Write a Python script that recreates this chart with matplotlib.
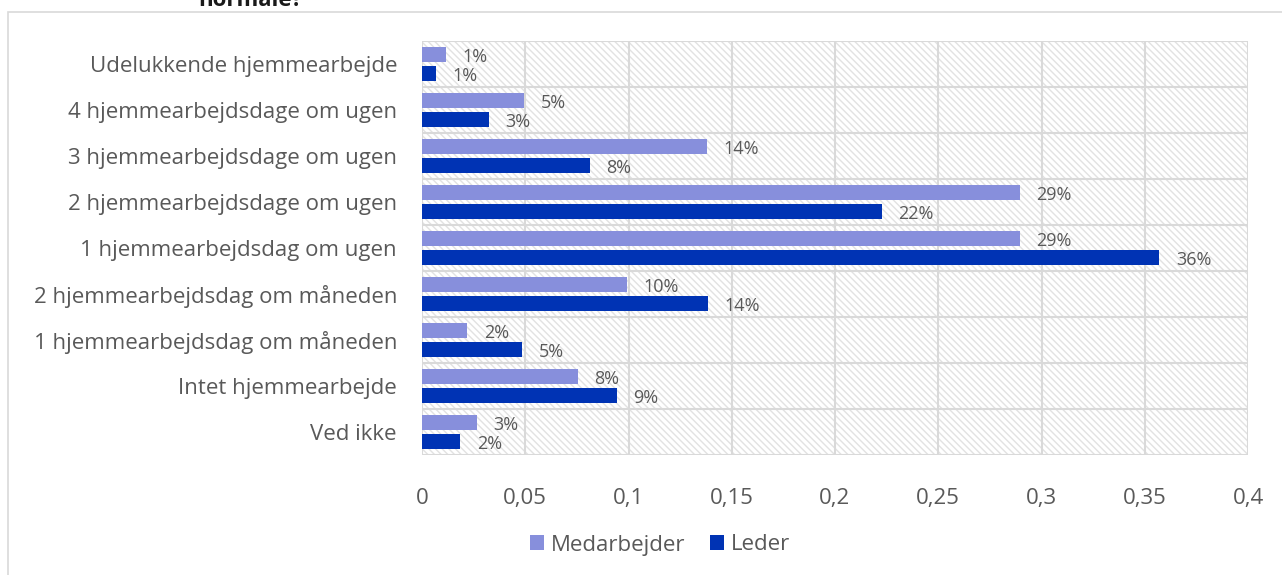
import matplotlib
matplotlib.use("Agg")
import matplotlib.pyplot as plt
from matplotlib.patches import Rectangle
from matplotlib.ticker import MultipleLocator, FuncFormatter

plt.rcParams['font.family'] = ['Open Sans', 'DejaVu Sans']
plt.rcParams['hatch.linewidth'] = 1.0

categories = ["Udelukkende hjemmearbejde", "4 hjemmearbejdsdage om ugen",
              "3 hjemmearbejdsdage om ugen", "2 hjemmearbejdsdage om ugen",
              "1 hjemmearbejdsdag om ugen", "2 hjemmearbejdsdag om måneden",
              "1 hjemmearbejdsdag om måneden", "Intet hjemmearbejde", "Ved ikke"]
medarbejder = [0.0116, 0.0494, 0.138, 0.2895, 0.2895, 0.0992, 0.0218, 0.0755, 0.0266]
leder = [0.0068, 0.0324, 0.0813, 0.2227, 0.357, 0.1384, 0.0484, 0.0944, 0.0184]
series_names = ["Medarbejder", "Leder"]
colors = ["#878fdc", "#0033b4"]

textc = "#595959"
gridc = "#d9d9d9"

fig = plt.figure(figsize=(12.82, 5.75), dpi=100)
W, H = 1282, 575

# chart border (runs off the right and bottom edge)
fig.patches.append(Rectangle((8 / W, -0.1), 1.2, 1 - 12 / H + 0.1, transform=fig.transFigure,
                             fill=False, edgecolor=gridc, linewidth=1.2))
# title, cut off at the top as in the source
fig.text(198 / W, 1 - 6 / H, "normale?", fontsize=16, fontweight='bold',
         color="#1a1a1a", va='baseline', ha='left')

ax = fig.add_axes([422 / W, 1 - 455 / H, (1248 - 422) / W, (455 - 41) / H])

# hatched plot background
ax.add_patch(Rectangle((0, 0), 1, 1, transform=ax.transAxes, facecolor='white',
                       edgecolor='#e2e2e2', hatch='\\\\\\\\\\', linewidth=0, zorder=0))

y = list(range(len(categories)))
h = 0.33
off = 0.207
for vals, name, col, d in zip([medarbejder, leder], series_names, colors, [-off, off]):
    pos = [v + d for v in y]
    ax.barh(pos, vals, height=h, color=col, label=name, zorder=3)
    for p, v in zip(pos, vals):
        ax.annotate("{:.0f}%".format(v * 100), (v, p), xytext=(12, -1.5),
                    textcoords='offset points', va='center', ha='left',
                    fontsize=13, color=textc, zorder=4)

ax.set_xlim(0, 0.4)
ax.set_ylim(len(categories) - 0.5, -0.5)
ax.xaxis.set_major_locator(MultipleLocator(0.05))
ax.xaxis.set_major_formatter(FuncFormatter(lambda v, p: ("%g" % round(v, 2)).replace('.', ',')))
ax.set_yticks(y)
ax.set_yticklabels(categories)
ax.set_yticks([i - 0.5 for i in range(len(categories) + 1)], minor=True)
ax.grid(True, axis='x', which='major', color=gridc, linewidth=1.5, zorder=1)
ax.grid(True, axis='y', which='minor', color=gridc, linewidth=1.5, zorder=1)
ax.set_axisbelow(True)
for s in ax.spines.values():
    s.set_visible(False)
ax.tick_params(axis='both', which='both', length=0, colors=textc, labelsize=16)
ax.tick_params(axis='x', pad=24)
ax.tick_params(axis='y', pad=18)

fig.legend(loc='center', bbox_to_anchor=(660 / W, 1 - 545 / H), ncol=2, frameon=False,
           fontsize=16, labelcolor=textc, handlelength=0.65, handleheight=0.65,
           handletextpad=0.3, columnspacing=1.1)

fig.savefig("out.png", dpi=100)
